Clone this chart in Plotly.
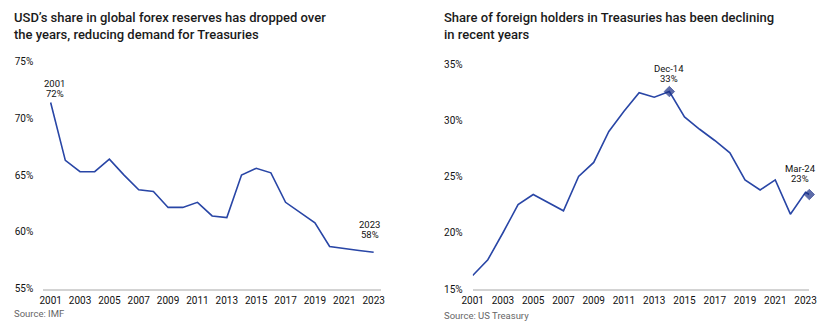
import plotly.graph_objects as go

# ---- data ----
years_left = list(range(2001, 2024))
usd_share = [71.4, 66.3, 65.3, 65.3, 66.4, 65.0, 63.7, 63.55, 62.15, 62.15, 62.6, 61.4,
             61.25, 65.0, 65.6, 65.2, 62.6, 61.7, 60.8, 58.7, 58.5, 58.35, 58.2]

years_right = list(range(2001, 2024)) + [2023.25]
foreign_share = [16.2, 17.6, 20.0, 22.5, 23.4, 22.7, 21.95, 25.0, 26.25, 29.0, 30.8, 32.45,
                 32.05, 32.55, 30.3, 29.2, 28.2, 27.1, 24.7, 23.8, 24.7, 21.65, 23.6, 23.4]

tick_years = list(range(2001, 2024, 2))
left_ticks = [55, 60, 65, 70, 75]
right_ticks = [15, 20, 25, 30, 35]

left_title = "USD’s share in global forex reserves has dropped over<br>the years, reducing demand for Treasuries"
right_title = "Share of foreign holders in Treasuries has been declining<br>in recent years"
left_source = "Source: IMF"
right_source = "Source: US Treasury"

LINE = "#2946a6"
MARK = "#1a2f85"
FONT = "Roboto"
W, H = 830, 335

def px(xp):
    return xp / W

def py(yp):
    return 1 - yp / H

fig = go.Figure()

fig.add_trace(go.Scatter(x=years_left, y=usd_share, mode="lines",
                         line=dict(color=LINE, width=1.6), xaxis="x", yaxis="y",
                         hoverinfo="skip", showlegend=False))

marker_sizes = [0] * len(years_right)
marker_sizes[13] = 8
marker_sizes[-1] = 8
fig.add_trace(go.Scatter(x=years_right, y=foreign_share, mode="lines+markers",
                         line=dict(color=LINE, width=1.6),
                         marker=dict(symbol="diamond", size=marker_sizes, color=MARK,
                                     line=dict(color=MARK, width=1)),
                         cliponaxis=False, xaxis="x2", yaxis="y2",
                         hoverinfo="skip", showlegend=False))

tickfont = dict(family=FONT, size=10, color="#111111")

fig.update_layout(
    width=W, height=H, autosize=False,
    margin=dict(l=0, r=0, t=0, b=0, pad=0, autoexpand=False),
    paper_bgcolor="white", plot_bgcolor="white",
    font=dict(family=FONT, color="#222222"),
    xaxis=dict(domain=[px(43.3), px(381)], range=[2000.5, 2023.5], automargin=False,
               tickvals=tick_years, ticktext=[str(t) for t in tick_years],
               showgrid=False, zeroline=False, showline=True, linecolor="#d3d3d3",
               linewidth=2, ticks="", tickfont=tickfont, ticklabelstandoff=1),
    yaxis=dict(domain=[py(288.5), py(61.7)], range=[55, 75], tickvals=left_ticks,
               automargin=False, ticktext=[f"{v}%" for v in left_ticks],
               showgrid=False, zeroline=False, showline=False,
               ticks="", tickfont=tickfont, ticklabelstandoff=9),
    xaxis2=dict(domain=[px(472.7), px(809.3)], range=[2001, 2023.25], anchor="y2",
                automargin=False,
                tickvals=tick_years, ticktext=[str(t) for t in tick_years],
                showgrid=False, zeroline=False, showline=True, linecolor="#d3d3d3",
                linewidth=2, ticks="", tickfont=tickfont, ticklabelstandoff=1),
    yaxis2=dict(domain=[py(289), py(64)], range=[15, 35], tickvals=right_ticks,
                automargin=False, ticktext=[f"{v}%" for v in right_ticks],
                anchor="x2", showgrid=False, zeroline=False,
                showline=False, ticks="", tickfont=tickfont, ticklabelstandoff=9),
)

title_font = dict(family=FONT, size=13, color="#1a1a1a", weight=500)
src_font = dict(family=FONT, size=9.5, color="#666666")
lab_font = dict(family=FONT, size=9.5, color="#111111")

annotations = [
    dict(text=left_title, x=px(12), y=py(26), xref="paper", yref="paper",
         xanchor="left", yanchor="middle", align="left", showarrow=False, font=title_font),
    dict(text=right_title, x=px(442), y=py(26), xref="paper", yref="paper",
         xanchor="left", yanchor="middle", align="left", showarrow=False, font=title_font),
    dict(text=left_source, x=px(12), y=py(313), xref="paper", yref="paper",
         xanchor="left", yanchor="middle", showarrow=False, font=src_font),
    dict(text=right_source, x=px(442), y=py(315), xref="paper", yref="paper",
         xanchor="left", yanchor="middle", showarrow=False, font=src_font),
]

def point_label(top, bottom, x, y, xref, yref, xshift, yshift):
    # two stacked lines, tightly spaced as in the reference
    return [
        dict(text=top, x=x, y=y, xref=xref, yref=yref, xanchor="center", yanchor="middle",
             xshift=xshift, yshift=yshift + 10, showarrow=False, font=lab_font),
        dict(text=bottom, x=x, y=y, xref=xref, yref=yref, xanchor="center", yanchor="middle",
             xshift=xshift, yshift=yshift, showarrow=False, font=lab_font),
    ]

annotations += point_label(str(years_left[0]), "72%", years_left[0], usd_share[0],
                           "x", "y", 4, 9)
annotations += point_label(str(years_left[-1]), "58%", years_left[-1], usd_share[-1],
                           "x", "y", -4, 18)
annotations += point_label("Dec-14", "33%", years_right[13], foreign_share[13],
                           "x2", "y2", 0, 13)
annotations += point_label("Mar-24", "23%", years_right[-1], foreign_share[-1],
                           "x2", "y2", -9, 16)
fig.update_layout(annotations=annotations)

fig.write_html("out.html")
